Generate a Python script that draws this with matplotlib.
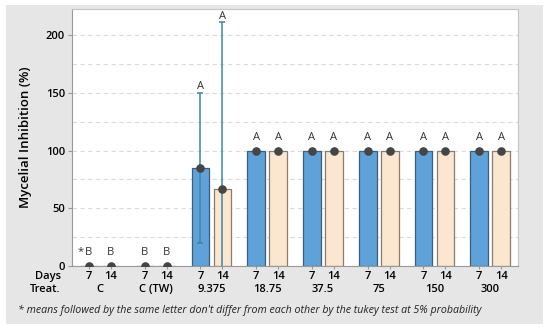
import numpy as np
import matplotlib.pyplot as plt
from matplotlib.patches import Rectangle
from matplotlib.transforms import blended_transform_factory

plt.rcParams['font.family'] = ['Open Sans', 'DejaVu Sans']

treatments = ['C', 'C (TW)', '9.375', '18.75', '37.5', '75', '150', '300']
days = ['7', '14']
means_7 = [0, 0, 85, 100, 100, 100, 100, 100]
means_14 = [0, 0, 67, 100, 100, 100, 100, 100]
err_7 = [0, 0, 65, 0, 0, 0, 0, 0]
err_14 = [0, 0, 144, 0, 0, 0, 0, 0]
letters_7 = ['B', 'B', 'A', 'A', 'A', 'A', 'A', 'A']
letters_14 = ['B', 'B', 'A', 'A', 'A', 'A', 'A', 'A']
note = "* means followed by the same letter don't differ from each other by the tukey test at 5% probability"

blue = '#5fa2d9'
beige = '#fbe7d0'
dotc = '#454545'
errc = '#3c87a3'

fig = plt.figure(figsize=(5.5, 3.31), dpi=100)
fig.patches.append(Rectangle((0.011, 0.021), 0.976, 0.964, transform=fig.transFigure,
                             facecolor='#e6e6e6', edgecolor='none', zorder=-10))
ax = fig.add_axes([0.131, 0.196, 0.811, 0.777])

x = np.arange(len(treatments))
off = 0.197
w = 0.32
series = [(x - off, means_7, err_7, letters_7, blue, '#3d5f7d'),
          (x + off, means_14, err_14, letters_14, beige, '#8a7d70')]

for pos, m, e, lets, fc, ec in series:
    ax.bar(pos, m, width=w, color=fc, edgecolor=ec, linewidth=0.9, zorder=2)
    for xi, mi, ei, li in zip(pos, m, e, lets):
        if ei > 0:
            ax.errorbar(xi, mi, yerr=ei, color=errc, lw=1.1, capsize=2.5, capthick=1.1, zorder=3)
            ax.annotate(li, (xi, mi + ei), xytext=(0, 0.5), textcoords='offset points',
                        ha='center', va='bottom', fontsize=8, color='#333333')
        else:
            ax.annotate(li, (xi, mi), xytext=(0, 5.5), textcoords='offset points',
                        ha='center', va='bottom', fontsize=8, color='#333333')
    ax.plot(pos, m, 'o', color=dotc, ms=6.2, mew=0, zorder=4)

ax.annotate('*', (x[0] - off, means_7[0]), xytext=(-6, 6.5), textcoords='offset points',
            ha='center', va='bottom', fontsize=8, color='#333333')

ax.set_xlim(-0.5, 7.5)
ax.set_ylim(0, 222.5)
ax.set_yticks([0, 50, 100, 150, 200])
ax.set_yticks([25, 75, 125, 175], minor=True)
ax.grid(axis='y', which='both', ls=(0, (4, 3)), color='#dadada', lw=0.8, zorder=0)
ax.tick_params(axis='y', which='major', length=3, color='#999999', labelsize=8, pad=2)
ax.tick_params(axis='y', which='minor', length=0)
for lab in ax.get_yticklabels():
    lab.set_fontweight('semibold')

ticks = np.sort(np.concatenate([x - off, x + off]))
ax.set_xticks(ticks)
ax.set_xticklabels(days * len(treatments), fontsize=8, fontweight='semibold')
ax.tick_params(axis='x', length=2, color='#999999', pad=1.5)

for sp in ['left', 'bottom']:
    ax.spines[sp].set_color('#9a9a9a')
for sp in ['top', 'right']:
    ax.spines[sp].set_color('#c4c4c4')

ax.set_ylabel('Mycelial Inhibition (%)', fontsize=9.5, fontweight='semibold', labelpad=10)

trans = blended_transform_factory(ax.transData, fig.transFigure)
for xi, t in zip(x, treatments):
    ax.text(xi, 1 - 289 / 331, t, transform=trans, ha='center', va='center',
            fontsize=8, fontweight='semibold')
fig.text(61 / 550, 1 - 277 / 331, 'Days', ha='right', va='center', fontsize=8, fontweight='semibold')
fig.text(61 / 550, 1 - 290 / 331, 'Treat.', ha='right', va='center', fontsize=8, fontweight='semibold')
fig.text(18 / 550, 1 - 310 / 331, note, ha='left', va='center', fontsize=7.7, style='italic', color='#222222')

fig.savefig('out.png', dpi=100)
